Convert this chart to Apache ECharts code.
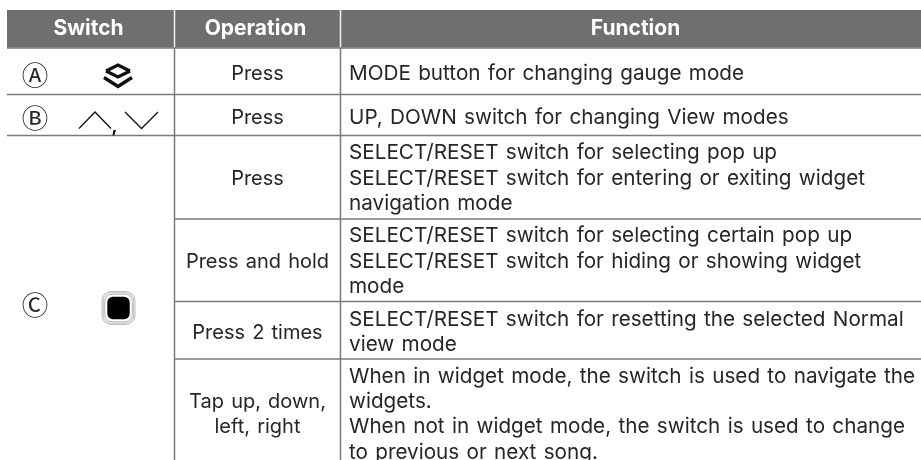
<!DOCTYPE html>
<html><head><meta charset="utf-8">
<style>html,body{margin:0;padding:0;background:#fff}#c{width:921px;height:460px}</style>
<script src="https://cdn.jsdelivr.net/npm/echarts@6/dist/echarts.min.js"></script>
</head><body><div id="c"></div>
<script>
const headers = ['Switch', 'Operation', 'Function'];
const switchLetters = ['Ⓐ', 'Ⓑ', 'Ⓒ'];
const operations = [['Press'], ['Press'], ['Press'], ['Press and hold'], ['Press 2 times'], ['Tap up, down,', 'left, right']];
const functions = [
  ['MODE button for changing gauge mode'],
  ['UP, DOWN switch for changing View modes'],
  ['SELECT/RESET switch for selecting pop up', 'SELECT/RESET switch for entering or exiting widget', 'navigation mode'],
  ['SELECT/RESET switch for selecting certain pop up', 'SELECT/RESET switch for hiding or showing widget', 'mode'],
  ['SELECT/RESET switch for resetting the selected Normal', 'view mode'],
  ['When in widget mode, the switch is used to navigate the', 'widgets.', 'When not in widget mode, the switch is used to change', 'to previous or next song.']
];
// layout
const colEdges = [7, 174, 340, 921];
const rowEdges = [48, 94.5, 135.5, 219, 301.5, 359];
const rowCenters = [73.5, 117.5, 178.5, 261.5, 332.5, 414.5];
const fnCenters = [73.5, 117.5, 178.5, 261.5, 332, 414.5];
const linePitch = 25.4;
const fontFam = 'Inter';
const wordGap = '1.5px';
const ink = '#262626', rule = '#7a7a7a', head = '#6f6f6f';

// the reference font has slightly wider word spaces than Inter
const baseFillText = CanvasRenderingContext2D.prototype.fillText;
CanvasRenderingContext2D.prototype.fillText = function () {
  this.wordSpacing = wordGap;
  return baseFillText.apply(this, arguments);
};

const chart = echarts.init(document.getElementById('c'), null, {renderer: 'canvas'});

function drawTable(params, api) {
  const P = (x, y) => api.coord([x, y]);
  const children = [];
  const line = (a, b, stroke, w) => {
    const p = P(a[0], a[1]), q = P(b[0], b[1]);
    children.push({type: 'line', shape: {x1: p[0], y1: p[1], x2: q[0], y2: q[1]}, style: {stroke, lineWidth: w}, silent: true});
  };
  const text = (s, x, y, opt) => {
    const p = P(x, y);
    children.push({type: 'text', x: p[0], y: p[1], style: Object.assign({text: s, fill: ink, font: '400 20px ' + fontFam, textAlign: 'center', textVerticalAlign: 'middle'}, opt)});
  };
  const poly = (pts, w, fill) => {
    children.push({type: 'polyline', shape: {points: pts.map(a => P(a[0], a[1]))}, style: {stroke: '#111', lineWidth: w, fill: fill || null, lineJoin: 'miter'}, silent: true});
  };
  // header
  const h0 = P(colEdges[0], 10), h1 = P(colEdges[3], 47.5);
  children.push({type: 'rect', shape: {x: h0[0], y: h0[1], width: h1[0] - h0[0], height: h1[1] - h0[1]}, style: {fill: head}, silent: true});
  [174, 340].forEach(x => line([x + .5, 10], [x + .5, 47.5], '#f2f2f2', 1.5));
  // rules
  rowEdges.forEach((y, i) => {
    const startX = (i >= 3) ? colEdges[1] : colEdges[0];
    line([startX, y], [colEdges[3], y], rule, 1.5);
  });
  [174, 340].forEach(x => line([x + .5, 48], [x + .5, 460], rule, 1.5));
  // header text
  const hf = '700 21px ' + fontFam;
  text(headers[0], 88.5, 29, {fill: '#fff', font: hf});
  text(headers[1], 255.5, 29, {fill: '#fff', font: hf});
  text(headers[2], 635.5, 29, {fill: '#fff', font: hf});
  // operations & functions
  operations.forEach((ls, r) => ls.forEach((s, i) => {
    text(s, 257.5, rowCenters[r] + (i - (ls.length - 1) / 2) * linePitch);
  }));
  functions.forEach((ls, r) => ls.forEach((s, i) => {
    text(s, 349, fnCenters[r] + (i - (ls.length - 1) / 2) * linePitch, {textAlign: 'left', font: '400 20.7px ' + fontFam});
  }));
  // circled letters
  const cf = '400 26.5px "Noto Sans CJK JP"';
  text(switchLetters[0], 35, 74.5, {font: cf});
  text(switchLetters[1], 35, 118, {font: cf});
  text(switchLetters[2], 35, 304.5, {font: cf});
  // mode icon
  poly([[106, 71], [118, 65], [130, 71]], 3.2);
  poly([[106, 71], [118, 77], [130, 71]], 3.2);
  poly([[104, 77.5], [118, 86.5], [132, 77.5]], 3.4);
  // up, down
  poly([[79, 128.5], [95, 112], [111, 128.5]], 1.3);
  text(',', 114.5, 127, {font: '700 18px ' + fontFam, fill: '#111'});
  poly([[125, 112], [141.5, 128.5], [158, 112]], 1.3);
  // joystick rings
  const rr = (cx, cy, r, rad, fill, stroke, w) => {
    const p = P(cx - r, cy - r), q = P(cx + r, cy + r);
    children.push({type: 'rect', shape: {x: p[0], y: p[1], width: q[0] - p[0], height: q[1] - p[1], r: rad}, style: {fill: fill || null, stroke: stroke || null, lineWidth: w || 0}, silent: true});
  };
  rr(118.5, 308, 16.5, 9, null, '#a0a0a0', .7);
  rr(118.5, 308, 15.2, 8, null, '#a0a0a0', .7);
  rr(118.5, 308, 13.8, 7.5, null, '#909090', .7);
  rr(118.5, 308, 11.2, 5.5, '#000');
  return {type: 'group', children};
}

chart.setOption({
  animation: false,
  backgroundColor: '#fff',
  grid: {left: 0, right: 0, top: 0, bottom: 0},
  xAxis: {type: 'value', min: 0, max: 921, show: false},
  yAxis: {type: 'value', min: 0, max: 460, inverse: true, show: false},
  series: [{type: 'custom', coordinateSystem: 'cartesian2d', data: [[0, 0]], renderItem: drawTable, clip: false, silent: true}]
});
</script></body></html>
